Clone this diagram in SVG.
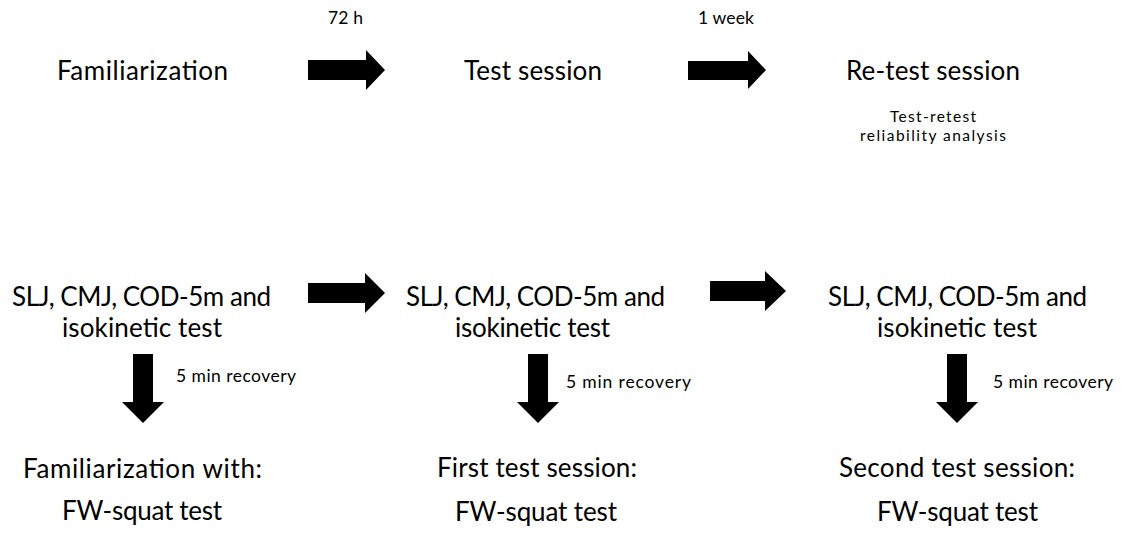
<svg xmlns="http://www.w3.org/2000/svg" width="1125" height="533" viewBox="0 0 1125 533">
<style>
  text { font-family: Lato, "Open Sans", "Liberation Sans", sans-serif; fill: #000; }
  .big { font-size: 26px; }
  .small { font-size: 17.5px; }
  .note { font-size: 15.5px; }
  .arrow { fill: #000; stroke: none; }
</style>
<rect width="1125" height="533" fill="#fff"/>

<g id="familiarization">
  <text class="big" x="57" y="80" textLength="171" lengthAdjust="spacing">Familiarization</text>
</g>
<g id="test-session">
  <text class="big" x="464" y="80" textLength="138" lengthAdjust="spacing">Test session</text>
</g>
<g id="retest-session">
  <text class="big" x="846" y="80" textLength="174" lengthAdjust="spacing">Re-test session</text>
  <text class="note" x="890" y="122" textLength="86" lengthAdjust="spacing">Test-retest</text>
  <text class="note" x="860" y="141" textLength="146" lengthAdjust="spacing">reliability analysis</text>
</g>

<g id="tests-1">
  <text class="big" x="12" y="306" textLength="259" lengthAdjust="spacing">SLJ, CMJ, COD-5m and</text>
  <text class="big" x="62" y="337" textLength="160" lengthAdjust="spacing">isokinetic test</text>
</g>
<g id="tests-2">
  <text class="big" x="406" y="306" textLength="259" lengthAdjust="spacing">SLJ, CMJ, COD-5m and</text>
  <text class="big" x="455" y="337" textLength="155" lengthAdjust="spacing">isokinetic test</text>
</g>
<g id="tests-3">
  <text class="big" x="828" y="306" textLength="259" lengthAdjust="spacing">SLJ, CMJ, COD-5m and</text>
  <text class="big" x="877" y="337" textLength="160" lengthAdjust="spacing">isokinetic test</text>
</g>

<g id="squat-1">
  <text class="big" x="23" y="478" textLength="239" lengthAdjust="spacing">Familiarization with:</text>
  <text class="big" x="62" y="520" textLength="160" lengthAdjust="spacing">FW-squat test</text>
</g>
<g id="squat-2">
  <text class="big" x="437" y="477" textLength="200" lengthAdjust="spacing">First test session:</text>
  <text class="big" x="455" y="521" textLength="162" lengthAdjust="spacing">FW-squat test</text>
</g>
<g id="squat-3">
  <text class="big" x="839" y="477" textLength="236" lengthAdjust="spacing">Second test session:</text>
  <text class="big" x="877" y="521" textLength="161" lengthAdjust="spacing">FW-squat test</text>
</g>

<g id="connectors">
  <polygon class="arrow" points="308,60 366,60 366,50 385,70 366,90 366,80 308,80"/>
  <text class="small" x="328" y="24" textLength="35" lengthAdjust="spacing">72 h</text>
  <polygon class="arrow" points="688,61 748,61 748,51 766,70 748,89 748,80 688,80"/>
  <text class="small" x="698" y="24" textLength="56" lengthAdjust="spacing">1 week</text>

  <polygon class="arrow" points="308,283 365,283 365,273 385,293 365,313 365,303 308,303"/>
  <polygon class="arrow" points="710,281 765,281 765,271 786,291 765,311 765,301 710,301"/>

  <polygon class="arrow" points="133,354 153,354 153,402 164,402 143,423 122,402 133,402"/>
  <text class="small" x="176" y="382" textLength="120" lengthAdjust="spacing">5 min recovery</text>
  <polygon class="arrow" points="528,354 548,354 548,402 559,402 538,423 517,402 528,402"/>
  <text class="small" x="566" y="388" textLength="125" lengthAdjust="spacing">5 min recovery</text>
  <polygon class="arrow" points="947,354 967,354 967,402 978,402 957,423 936,402 947,402"/>
  <text class="small" x="993" y="388" textLength="120" lengthAdjust="spacing">5 min recovery</text>
</g>
</svg>
